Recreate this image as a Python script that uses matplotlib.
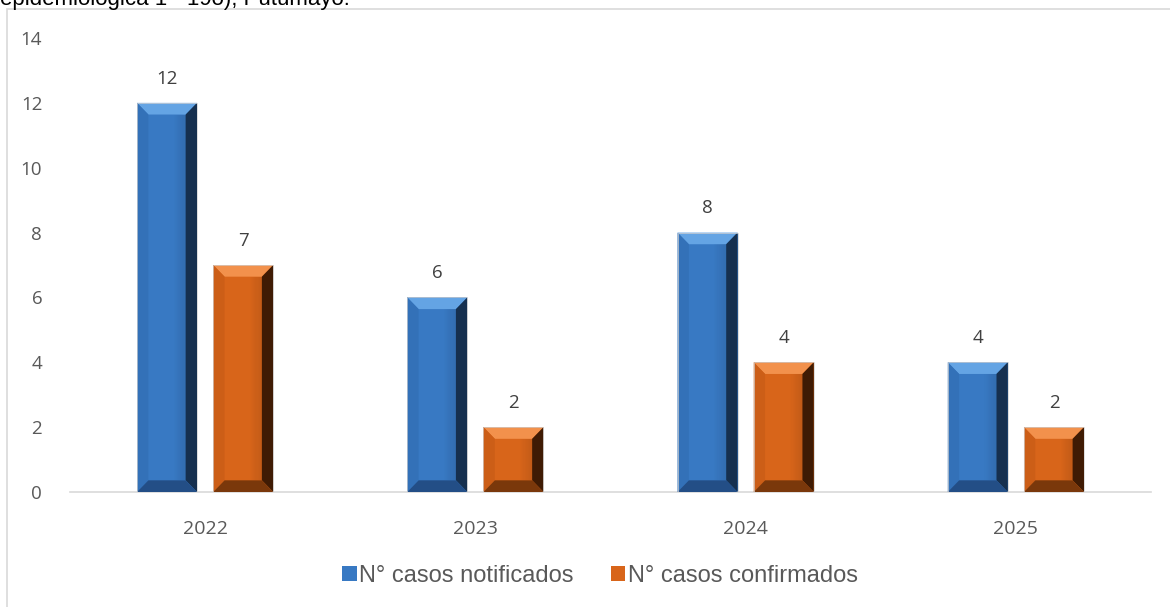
import matplotlib.pyplot as plt
from matplotlib.patches import Polygon, Rectangle
import numpy as np

years = ['2022', '2023', '2024', '2025']
notificados = [12, 6, 8, 4]
confirmados = [7, 2, 4, 2]
series_names = ['N° casos notificados', 'N° casos confirmados']

BLUE = {'face': '#3879C3', 'top': '#64A4E4', 'left': '#3371B8',
        'right': '#16304F', 'bottom': '#234E86'}
ORANGE = {'face': '#D8651A', 'top': '#F2914C', 'left': '#CC5E17',
          'right': '#3F1B04', 'bottom': '#7A380B'}


def bevel_bar(ax, patch, pal, bx=0.042, by=0.36):
    x0, y0 = patch.get_x(), patch.get_y()
    x1, y1 = x0 + patch.get_width(), y0 + patch.get_height()
    by = min(by, (y1 - y0) / 4)
    ix0, ix1, iy0, iy1 = x0 + bx, x1 - bx, y0 + by, y1 - by
    faces = [
        ([(x0, y1), (x1, y1), (ix1, iy1), (ix0, iy1)], pal['top']),
        ([(x0, y0), (ix0, iy0), (ix0, iy1), (x0, y1)], pal['left']),
        ([(x1, y0), (x1, y1), (ix1, iy1), (ix1, iy0)], pal['right']),
        ([(x0, y0), (x1, y0), (ix1, iy0), (ix0, iy0)], pal['bottom']),
    ]
    for pts, c in faces:
        ax.add_patch(Polygon(pts, closed=True, facecolor=c, edgecolor='none', zorder=3))
    # soft dark gradient toward the right edge of the face
    n = 12
    w = (ix1 - ix0) * 0.35
    for i in range(n):
        xa = ix1 - w + w * i / n
        ax.add_patch(Rectangle((xa, iy0), w / n, iy1 - iy0, facecolor='black',
                               alpha=0.1 * i / n, edgecolor='none', zorder=3))
    # thin light rim
    ax.add_patch(Rectangle((x0, y0), x1 - x0, y1 - y0, fill=False,
                           edgecolor='#D0D0D0', linewidth=0.5, zorder=4))


fig = plt.figure(figsize=(11.7, 6.07), dpi=100)
fig.patches.append(Rectangle((7 / 1170, -0.05), 1.2, 1 - 9 / 607 + 0.05,
                             transform=fig.transFigure, fill=False,
                             edgecolor='#D9D9D9', linewidth=1.2))
fig.text(0.0, 1 - 5 / 607, 'epidemiológica 1 - 19o), Putumayo.', fontsize=16,
         family='Liberation Sans', color='black', va='baseline', ha='left')

ax = fig.add_axes([70 / 1170, (607 - 492) / 607, 1081 / 1170, 454 / 607])

x = np.arange(len(years))
width = 0.222
off = 0.141
b1 = ax.bar(x - off, notificados, width, color=BLUE['face'], zorder=2,
            label=series_names[0])
b2 = ax.bar(x + off, confirmados, width, color=ORANGE['face'], zorder=2,
            label=series_names[1])
for p in b1:
    bevel_bar(ax, p, BLUE)
for p in b2:
    bevel_bar(ax, p, ORANGE)

for bars, vals in ((b1, notificados), (b2, confirmados)):
    for p, v in zip(bars, vals):
        ax.annotate(str(v), (p.get_x() + p.get_width() / 2, v), xytext=(0, 11),
                    textcoords='offset points', ha='center', va='bottom',
                    fontsize=13.5, color='#404040', family='Open Sans')

ax.set_xlim(-0.5, len(years) - 0.5)
ax.set_ylim(0, 14)
ax.set_yticks(range(0, 15, 2))
ax.set_xticks(x)
ax.set_xticklabels(years)
for s in ('top', 'right', 'left'):
    ax.spines[s].set_visible(False)
ax.spines['bottom'].set_color('#D9D9D9')
ax.spines['bottom'].set_linewidth(1.2)
ax.tick_params(axis='y', length=0, labelsize=13.5, labelcolor='#595959', pad=20)
ax.tick_params(axis='x', length=0, labelsize=14, labelcolor='#595959', pad=20)
for lab in ax.get_xticklabels() + ax.get_yticklabels():
    lab.set_family('Open Sans')

leg = fig.legend(handles=[b1, b2], loc='center', bbox_to_anchor=(600 / 1170, 1 - 576 / 607),
                 ncol=2, frameon=False, handlelength=0.6, handleheight=0.6,
                 handletextpad=0.1, columnspacing=1.6,
                 prop={'family': 'Liberation Sans', 'size': 17})
for t in leg.get_texts():
    t.set_color('#595959')

fig.savefig('out.png', dpi=100)
